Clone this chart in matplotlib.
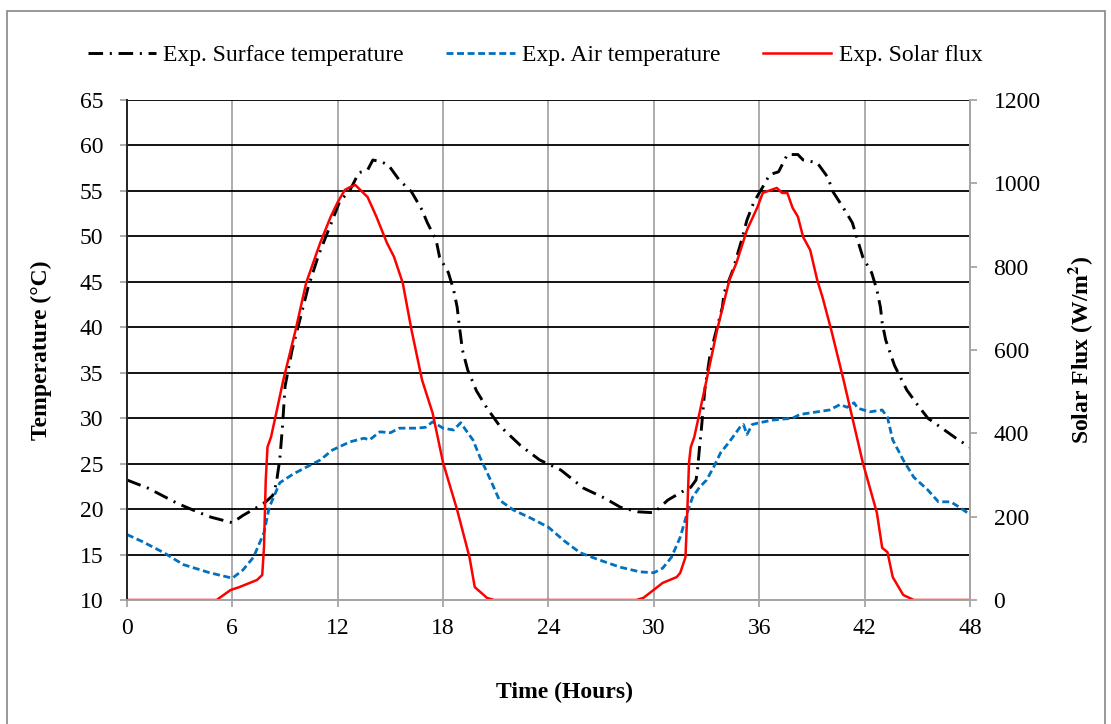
import numpy as np
import matplotlib
matplotlib.use('Agg')
import matplotlib.pyplot as plt
from matplotlib.patches import Rectangle

plt.rcParams['font.family'] = ['Liberation Serif', 'DejaVu Serif']
plt.rcParams['mathtext.fontset'] = 'stix'

# ── DATA ──────────────────────────────────────────────────────────────────────
t_surf = [0, 1.2, 2.9, 4.0, 4.8, 5.8, 6.0, 6.6, 7.5, 7.9, 8.3, 8.5, 8.7, 8.85, 9.0,
          9.4, 9.8, 10.3, 10.9, 11.7, 12.1, 12.7, 13.2, 13.7, 14.0, 14.5, 14.9,
          15.5, 16.2, 16.8, 17.1, 17.6, 17.8, 18.3, 18.6, 18.8, 18.9, 19.1, 19.4,
          19.9, 20.5, 21.2, 22.4, 23.5, 24.7, 26.0, 27.2, 28.1, 29.1, 30.0, 30.8,
          31.6, 32.1, 32.4, 32.5, 32.6, 32.7, 32.8, 32.9, 33.2, 33.6, 33.9, 34.0,
          34.5, 35.0, 35.3, 35.7, 36.1, 36.6, 37.1, 37.6, 38.2, 38.5, 39.3, 39.9,
          40.2, 40.8, 41.3, 41.6, 41.9, 42.4, 42.7, 42.9, 43.0, 43.2, 43.7, 44.4,
          45.0, 45.6, 46.4, 47.2, 48.0]
surf_temp = [23.2, 22.3, 20.6, 19.7, 19.1, 18.6, 18.5, 19.3, 20.3, 20.8, 21.5, 22.8,
             25.5, 29.0, 33.5, 37.5, 40.5, 44.3, 47.9, 51.8, 53.8, 55.1, 57.0, 57.3,
             58.4, 58.2, 57.8, 56.2, 54.9, 52.9, 51.5, 49.6, 47.7, 46.0, 44.1, 42.2,
             40.5, 37.5, 35.3, 33.0, 31.1, 29.2, 27.0, 25.4, 24.3, 22.3, 21.2, 20.2,
             19.7, 19.6, 21.0, 21.9, 22.4, 23.2, 24.6, 26.8, 28.7, 30.9, 33.1, 37.0,
             40.0, 42.2, 43.8, 46.3, 49.6, 51.8, 53.8, 55.1, 56.8, 57.1, 59.0, 59.0,
             58.4, 58.1, 56.5, 54.9, 53.1, 51.5, 49.6, 47.7, 46.0, 44.1, 42.2, 40.5,
             38.6, 35.8, 33.1, 31.5, 30.0, 28.9, 27.8, 26.8]

t_air = [0, 0.9, 2.1, 3.2, 4.7, 6.0, 6.6, 7.2, 7.8, 8.1, 8.7, 9.5, 10.2, 11.0, 11.7,
         12.7, 13.5, 13.8, 14.4, 15.0, 15.5, 16.5, 17.0, 17.4, 18.0, 18.6, 19.0,
         19.4, 19.7, 20.1, 20.7, 21.2, 22.0, 23.0, 24.0, 24.9, 25.8, 26.9, 28.1,
         29.2, 30.0, 30.5, 31.0, 31.5, 31.9, 32.2, 32.6, 33.0, 33.4, 33.8, 34.3,
         34.9, 35.1, 35.3, 35.6, 36.0, 36.8, 37.9, 38.3, 39.3, 40.0, 40.6, 41.0,
         41.4, 41.6, 42.3, 43.0, 43.3, 43.6, 44.2, 44.8, 45.6, 46.2, 46.9, 47.4, 48.0]
air_temp = [17.2, 16.4, 15.2, 13.9, 13.0, 12.4, 13.3, 14.7, 17.4, 20.2, 22.9, 23.9,
            24.6, 25.4, 26.5, 27.4, 27.8, 27.6, 28.5, 28.4, 28.9, 28.9, 29.0, 29.6,
            28.9, 28.7, 29.5, 28.4, 27.6, 25.7, 23.2, 21.0, 19.9, 19.0, 18.0, 16.5,
            15.2, 14.4, 13.6, 13.1, 13.0, 13.5, 14.7, 16.9, 19.6, 21.3, 22.4, 23.2,
            24.6, 26.2, 27.4, 29.0, 29.3, 28.2, 29.3, 29.5, 29.8, 30.0, 30.4, 30.7,
            30.9, 31.5, 31.2, 31.7, 31.1, 30.7, 30.9, 30.1, 27.6, 25.4, 23.5, 22.1,
            20.8, 20.8, 20.2, 19.4]

t_sol = [0, 5.1, 5.9, 6.4, 7.4, 7.7, 7.8, 7.9, 8.0, 8.2, 8.5, 8.9, 9.6, 10.2, 11.0,
         11.6, 12.0, 12.4, 12.7, 13.0, 13.7, 14.2, 14.8, 15.2, 15.7, 16.2, 16.8,
         17.4, 18.0, 18.8, 19.5, 19.8, 20.5, 20.9, 29.0, 29.4, 30.5, 31.3, 31.5,
         31.8, 31.9, 32.0, 32.1, 32.3, 32.6, 33.0, 33.6, 34.3, 34.7, 35.3, 35.9,
         36.2, 37.0, 37.3, 37.6, 37.9, 38.2, 38.5, 38.9, 39.3, 39.6, 40.1, 40.8,
         41.9, 42.7, 43.0, 43.3, 43.6, 44.2, 44.8, 48.0]
solar_flux = [0, 0, 24, 31, 48, 60, 127, 288, 367, 391, 449, 528, 648, 761, 857,
              920, 955, 984, 991, 996, 967, 920, 857, 824, 761, 648, 528, 449, 329,
              216, 103, 31, 5, 0, 0, 5, 41, 55, 65, 103, 209, 329, 367, 391, 449,
              528, 648, 768, 809, 888, 943, 977, 989, 977, 977, 941, 920, 871, 840,
              768, 727, 648, 528, 329, 209, 125, 115, 55, 12, 0, 0]

x_ticks = [0, 6, 12, 18, 24, 30, 36, 42, 48]
temp_ticks = list(range(10, 70, 5))
flux_ticks = [0, 200, 400, 600, 800, 1000, 1200]

FS = 17
GREY = '#a6a6a6'

# ── PLOT ─────────────────────────────────────────────────────────────────────
fig = plt.figure(figsize=(11.11, 7.24), dpi=100)
ax = fig.add_axes([127 / 1111, 1 - 600 / 724, 843 / 1111, 500 / 724])
ax2 = ax.twinx()

l1, = ax.plot(t_surf, surf_temp, color='black', linewidth=2.1,
              linestyle=(0, (5.0, 2.3, 0.7, 2.3)), label='Exp. Surface temperature')
l2, = ax.plot(t_air, air_temp, color='#0070c0', linewidth=2.0,
              linestyle=(0, (2.5, 1.3)), label='Exp. Air temperature')
l3, = ax2.plot(t_sol, solar_flux, color='#ff0000', linewidth=1.8,
               label='Exp. Solar flux')

ax.set_xlim(0, 48)
ax.set_ylim(10, 65)
ax2.set_ylim(0, 1200)
ax.set_xticks(x_ticks)
ax.set_yticks(temp_ticks)
ax2.set_yticks(flux_ticks)

ax.set_axisbelow(True)
ax.yaxis.grid(True, color='black', linewidth=1.3)
ax.xaxis.grid(True, color=GREY, linewidth=1.3)

for a in (ax, ax2):
    a.spines['top'].set_visible(False)
    a.spines['bottom'].set_color(GREY)
    a.spines['left'].set_color('#262626')
    a.spines['right'].set_color(GREY)
    for s in a.spines.values():
        s.set_linewidth(1.3)

ax.tick_params(axis='x', direction='out', length=5, width=1.3, color=GREY,
               labelsize=FS, pad=8)
ax.tick_params(axis='y', direction='out', length=5, width=1.3, color=GREY,
               labelsize=FS, pad=12)
ax2.tick_params(axis='y', direction='out', length=5, width=1.3, color=GREY,
                labelsize=FS, pad=12)

ax.set_ylabel('Temperature (°C)', fontsize=FS, fontweight='bold', labelpad=20)
ax2.set_ylabel('Solar Flux (W/m$^{\\mathbf{2}}$)', fontsize=FS, fontweight='bold',
               labelpad=18)
fig.text(565 / 1111, 1 - 692 / 724, 'Time (Hours)', fontsize=FS, fontweight='bold',
         ha='center', va='center')

fig.legend(handles=[l1, l2, l3], loc='center', bbox_to_anchor=(535 / 1111, 0.924),
           ncol=3, frameon=False, fontsize=FS, handlelength=2.9,
           handletextpad=0.3, columnspacing=1.8)

fig.patches.append(Rectangle((6.5 / 1111, -0.01), 1 - 13 / 1111, 1.01 - 10.5 / 724,
                             transform=fig.transFigure, fill=False,
                             edgecolor='#868686', linewidth=1.2))

plt.savefig('out.png', dpi=100)
